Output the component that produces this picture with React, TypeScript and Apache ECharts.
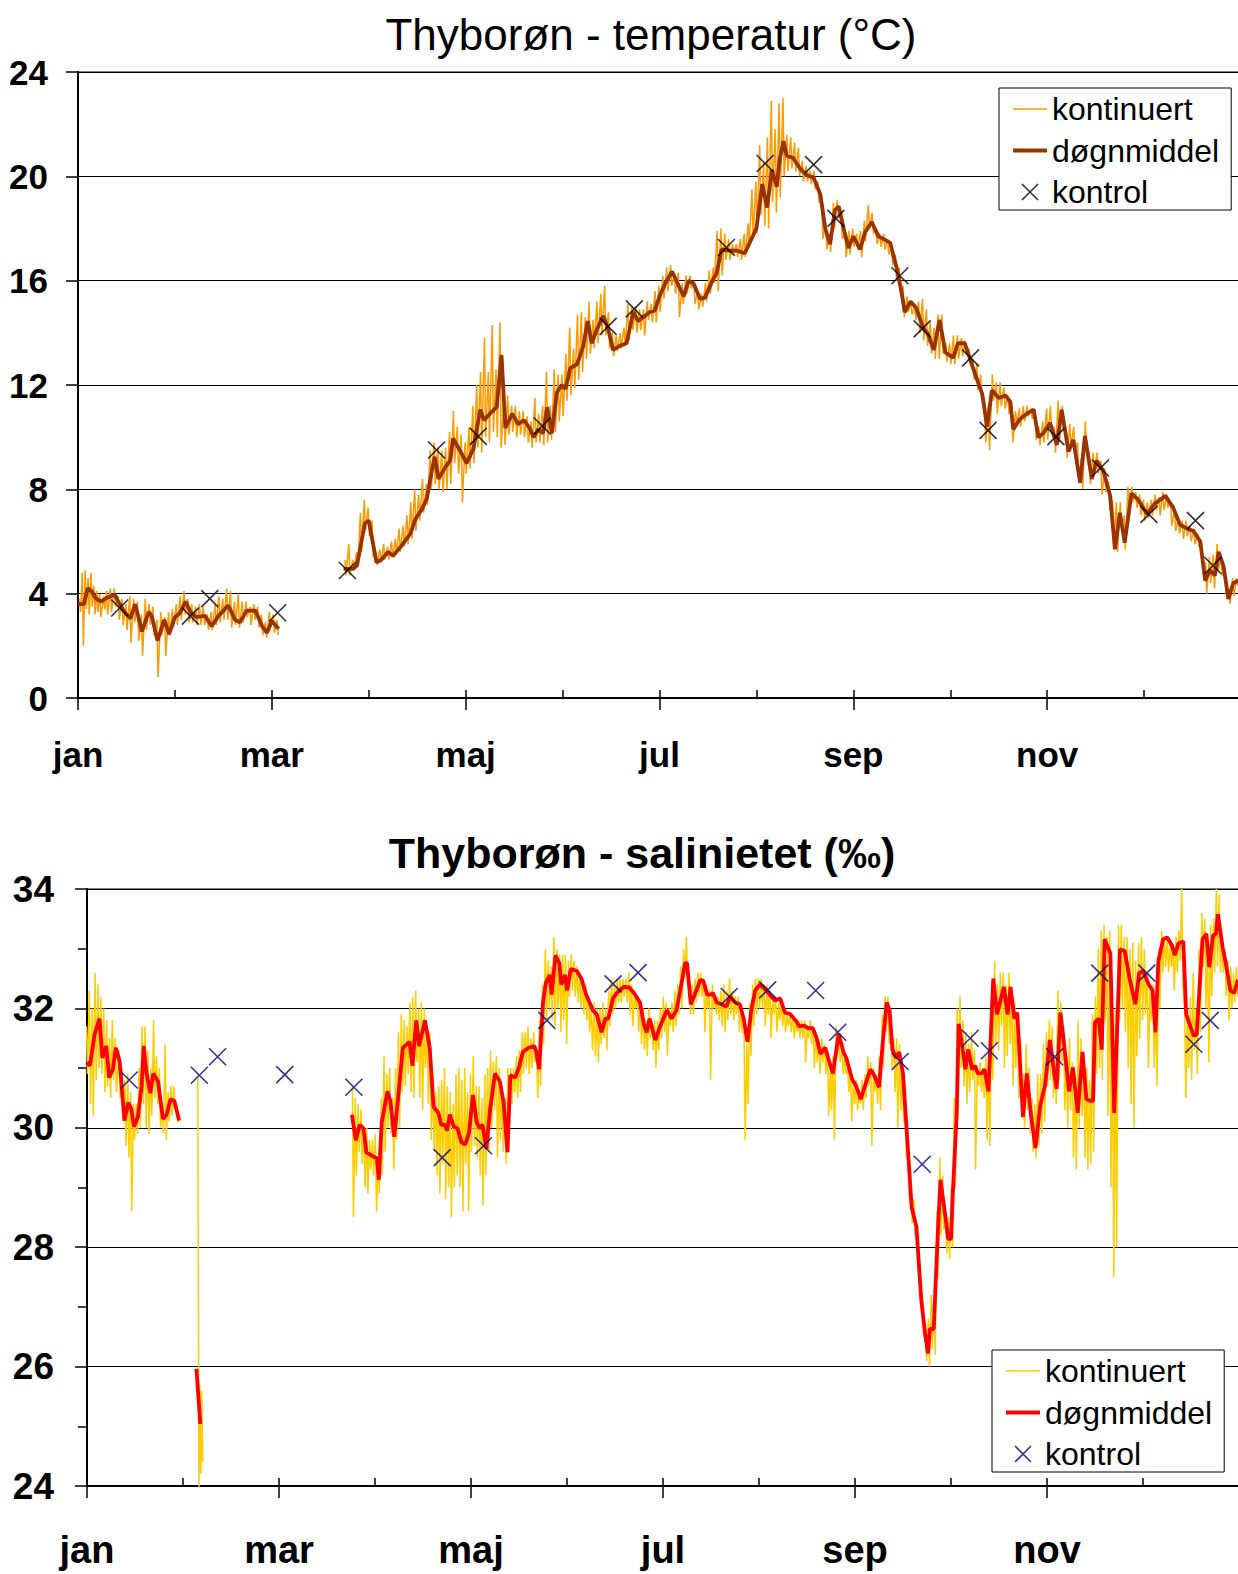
import React, { useEffect, useRef } from 'react';
import * as echarts from 'echarts';

const FONT = 'Liberation Sans, Arial, sans-serif';
const monthLabels = ['jan', 'mar', 'maj', 'jul', 'sep', 'nov'];
const legendNames = ['kontinuert', 'døgnmiddel', 'kontrol'];

// x = month (0 = 1 jan, 12 = end of year)
// ---------- Temperature: kontinuert [month, low, high] ----------
const tempContWinter: number[][] = [
  [0.02, 3.3, 3.8], [0.05, 2.0, 4.8], [0.08, 3.4, 4.9], [0.11, 3.2, 4.6], [0.14, 3.5, 4.8], [0.17, 3.2, 4.3],
  [0.2, 3.3, 4.1], [0.23, 3.1, 4.0], [0.27, 3.4, 3.9], [0.3, 3.2, 4.1], [0.34, 3.3, 4.2], [0.38, 3.5, 4.2],
  [0.42, 3.0, 3.9], [0.46, 2.8, 3.8], [0.5, 2.6, 3.6], [0.54, 2.1, 3.9], [0.58, 2.9, 3.8], [0.62, 2.2, 3.7],
  [0.66, 1.6, 3.2], [0.7, 2.6, 3.8], [0.74, 2.8, 3.6], [0.78, 2.4, 3.5], [0.82, 0.8, 3.0], [0.86, 2.4, 3.3],
  [0.9, 1.6, 3.1], [0.94, 2.4, 3.3], [0.98, 2.7, 3.4], [1.02, 2.8, 3.6], [1.06, 3.0, 3.9], [1.1, 3.2, 4.1],
  [1.14, 2.9, 3.8], [1.18, 2.9, 3.6], [1.22, 2.8, 3.5], [1.26, 2.8, 3.6], [1.3, 2.8, 3.5], [1.34, 2.6, 3.2],
  [1.38, 2.6, 3.3], [1.42, 2.8, 3.6], [1.46, 2.9, 3.9], [1.5, 3.0, 3.8], [1.54, 3.0, 4.2], [1.58, 2.7, 4.1],
  [1.62, 2.8, 3.7], [1.66, 2.7, 4.0], [1.7, 2.9, 3.7], [1.74, 3.1, 3.7], [1.78, 2.8, 3.5], [1.82, 3.0, 3.6],
  [1.86, 2.7, 3.5], [1.9, 2.4, 3.2], [1.94, 2.3, 2.9], [1.98, 2.7, 3.3], [2.02, 2.5, 3.2], [2.06, 2.4, 3.0],
];
const tempContSpringToDec: number[][] = [
  [2.76, 4.7, 5.3], [2.8, 4.7, 5.9], [2.84, 4.9, 5.3], [2.88, 5.0, 5.6], [2.92, 5.6, 7.1], [2.96, 6.4, 7.6],
  [3.0, 6.2, 7.3], [3.04, 5.4, 6.8], [3.08, 5.1, 5.6], [3.12, 5.2, 5.7], [3.16, 5.3, 5.9], [3.2, 5.3, 5.8],
  [3.24, 5.4, 6.0], [3.28, 5.5, 6.1], [3.32, 5.6, 6.5], [3.36, 5.8, 6.6], [3.4, 5.9, 7.0], [3.44, 6.1, 7.5],
  [3.48, 6.4, 8.0], [3.52, 6.8, 7.8], [3.56, 7.1, 8.4], [3.6, 7.4, 8.2], [3.64, 8.0, 9.5], [3.68, 8.2, 9.8],
  [3.72, 8.0, 9.6], [3.76, 7.9, 9.5], [3.8, 8.0, 9.6], [3.84, 8.2, 10.2], [3.88, 9.0, 11.0], [3.92, 8.6, 10.4],
  [3.96, 7.5, 10.1], [4.0, 8.6, 9.8], [4.04, 8.8, 10.4], [4.08, 9.0, 11.2], [4.12, 9.6, 12.0], [4.16, 9.4, 12.5],
  [4.2, 10.0, 13.8], [4.24, 9.8, 12.5], [4.28, 10.2, 14.3], [4.32, 10.0, 12.6], [4.36, 9.6, 14.4], [4.4, 9.7, 11.5],
  [4.44, 10.1, 11.6], [4.48, 10.2, 11.2], [4.52, 10.0, 11.2], [4.56, 10.1, 11.0], [4.6, 10.0, 11.0], [4.64, 9.8, 10.8],
  [4.68, 9.6, 10.6], [4.72, 9.8, 11.5], [4.76, 9.8, 10.9], [4.8, 9.7, 11.2], [4.84, 9.8, 12.5], [4.88, 9.9, 11.2],
  [4.92, 10.2, 12.6], [4.96, 10.6, 12.4], [5.0, 10.8, 12.4], [5.04, 11.4, 13.2], [5.08, 11.6, 14.2], [5.12, 11.9, 13.4],
  [5.16, 12.2, 14.7], [5.2, 12.5, 14.8], [5.24, 13.0, 14.6], [5.28, 13.2, 15.2], [5.32, 13.4, 14.5], [5.36, 13.6, 15.2],
  [5.4, 13.9, 15.5], [5.44, 13.9, 15.8], [5.48, 13.4, 14.8], [5.52, 13.1, 14.0], [5.56, 13.3, 13.9], [5.6, 13.4, 14.0],
  [5.64, 13.5, 14.2], [5.68, 13.7, 15.1], [5.72, 14.1, 15.0], [5.76, 14.0, 15.0], [5.8, 14.1, 14.9], [5.84, 13.9, 14.9],
  [5.88, 14.5, 15.2], [5.92, 14.4, 15.1], [5.96, 14.4, 15.6], [6.0, 14.8, 15.8], [6.04, 15.3, 16.2], [6.08, 15.6, 16.5],
  [6.12, 15.8, 16.6], [6.16, 15.5, 16.2], [6.2, 14.6, 16.3], [6.24, 15.1, 15.9], [6.28, 15.5, 16.2], [6.32, 15.7, 16.2],
  [6.36, 15.1, 16.0], [6.4, 14.9, 15.6], [6.44, 15.0, 15.5], [6.48, 15.2, 15.9], [6.52, 15.5, 16.4], [6.56, 15.9, 16.5],
  [6.6, 15.6, 17.9], [6.64, 16.2, 18.0], [6.68, 16.8, 17.8], [6.72, 16.8, 17.6], [6.76, 17.0, 17.4], [6.8, 16.9, 17.4],
  [6.84, 16.8, 17.6], [6.88, 16.9, 17.8], [6.92, 17.3, 18.2], [6.96, 17.6, 19.5], [7.0, 17.8, 19.8], [7.04, 18.5, 21.2],
  [7.08, 18.1, 20.5], [7.12, 18.0, 21.5], [7.16, 19.0, 22.9], [7.2, 18.6, 21.8], [7.24, 19.2, 22.8], [7.28, 20.0, 23.0],
  [7.32, 20.2, 21.6], [7.36, 20.3, 21.5], [7.4, 20.2, 21.3], [7.44, 20.0, 21.1], [7.48, 19.8, 20.6], [7.52, 19.8, 20.4],
  [7.56, 19.7, 20.2], [7.6, 19.5, 20.2], [7.64, 19.0, 19.8], [7.68, 17.6, 19.0], [7.72, 17.2, 18.2], [7.76, 17.1, 17.8],
  [7.8, 18.0, 19.0], [7.84, 18.4, 19.1], [7.88, 17.6, 18.6], [7.92, 16.9, 17.8], [7.96, 17.0, 17.9], [8.0, 17.3, 18.0],
  [8.04, 17.2, 17.8], [8.08, 16.9, 17.9], [8.12, 17.5, 18.3], [8.16, 18.0, 18.9], [8.2, 17.8, 18.6], [8.24, 17.4, 18.0],
  [8.28, 17.3, 17.8], [8.32, 17.2, 17.8], [8.36, 17.0, 17.6], [8.4, 16.6, 17.3], [8.44, 16.0, 17.0], [8.48, 15.5, 16.5],
  [8.52, 14.6, 15.8], [8.56, 14.8, 15.4], [8.6, 14.7, 15.2], [8.64, 14.5, 15.0], [8.68, 14.0, 15.2], [8.72, 13.7, 15.3],
  [8.76, 13.5, 14.9], [8.8, 13.2, 14.4], [8.84, 13.0, 14.2], [8.88, 13.0, 14.7], [8.92, 13.2, 14.7], [8.96, 12.9, 13.6],
  [9.0, 12.8, 13.6], [9.04, 12.8, 13.9], [9.08, 13.0, 13.9], [9.12, 13.1, 13.8], [9.16, 13.2, 13.7], [9.2, 12.8, 13.4],
  [9.24, 12.2, 13.0], [9.28, 11.8, 12.8], [9.32, 11.5, 12.4], [9.36, 9.8, 11.5], [9.4, 9.5, 11.2], [9.44, 11.4, 12.4],
  [9.48, 10.9, 12.1], [9.52, 11.2, 12.1], [9.56, 11.1, 11.9], [9.6, 10.9, 11.6], [9.64, 9.8, 11.3], [9.68, 10.5, 11.0],
  [9.72, 10.4, 11.1], [9.76, 10.6, 11.2], [9.8, 10.8, 11.2], [9.84, 10.7, 11.1], [9.88, 9.9, 11.1], [9.92, 9.7, 10.4],
  [9.96, 9.8, 10.6], [10.0, 9.9, 11.1], [10.04, 10.1, 11.2], [10.08, 9.4, 10.4], [10.12, 9.8, 11.4], [10.16, 10.4, 11.2],
  [10.2, 9.2, 10.4], [10.24, 9.6, 10.5], [10.28, 9.5, 10.4], [10.32, 8.4, 9.8], [10.36, 8.0, 9.2], [10.4, 9.5, 10.6],
  [10.44, 8.2, 9.4], [10.48, 8.6, 9.4], [10.52, 8.6, 9.4], [10.56, 7.8, 9.1], [10.6, 7.9, 8.8], [10.64, 7.2, 8.3],
  [10.68, 5.7, 7.6], [10.72, 5.6, 7.5], [10.76, 6.6, 7.5], [10.8, 5.7, 7.0], [10.84, 7.4, 8.1], [10.88, 7.5, 8.1],
  [10.92, 7.3, 7.9], [10.96, 7.0, 7.8], [11.0, 6.8, 7.6], [11.04, 6.9, 7.5], [11.08, 7.0, 7.6], [11.12, 7.2, 7.8],
  [11.16, 7.0, 7.7], [11.2, 7.2, 7.9], [11.24, 7.3, 7.8], [11.28, 6.6, 7.5], [11.32, 6.4, 7.2], [11.36, 6.3, 6.9],
  [11.4, 6.1, 6.8], [11.44, 6.2, 6.8], [11.48, 6.0, 6.6], [11.52, 5.9, 6.5], [11.56, 5.8, 6.3], [11.6, 4.8, 5.9],
  [11.64, 4.0, 5.2], [11.68, 4.4, 5.4], [11.72, 4.2, 5.5], [11.76, 4.9, 5.9], [11.8, 4.7, 5.4], [11.84, 4.0, 4.9],
  [11.88, 3.6, 4.2], [11.92, 3.9, 4.6], [11.96, 4.3, 4.6],
];
// ---------- Temperature: døgnmiddel [month, value] ----------
const tempMeanWinter: number[][] = [
  [0, 3.6], [0.06, 3.6], [0.1, 4.2], [0.14, 4.1], [0.19, 3.8], [0.24, 3.7], [0.3, 3.85], [0.38, 3.95], [0.43, 3.6],
  [0.48, 3.3], [0.54, 3.05], [0.59, 3.6], [0.66, 2.55], [0.73, 3.3], [0.76, 3.15], [0.82, 2.2], [0.89, 3.0],
  [0.94, 2.45], [1.0, 3.1], [1.05, 3.25], [1.11, 3.7], [1.16, 3.3], [1.22, 3.1], [1.31, 3.15], [1.38, 2.75],
  [1.45, 3.15], [1.55, 3.55], [1.62, 3.0], [1.67, 2.9], [1.74, 3.35], [1.83, 3.35], [1.9, 2.75], [1.95, 2.5],
  [2.0, 2.95], [2.07, 2.65],
];
const tempMeanSpringToDec: number[][] = [
  [2.74, 4.95], [2.84, 4.95], [2.88, 5.1], [2.96, 6.7], [3.0, 6.8], [3.08, 5.2], [3.13, 5.3], [3.2, 5.6], [3.25, 5.45],
  [3.34, 5.85], [3.43, 6.3], [3.48, 6.85], [3.55, 7.25], [3.6, 7.65], [3.65, 8.7], [3.68, 9.25], [3.72, 8.4],
  [3.79, 8.85], [3.84, 9.1], [3.87, 9.95], [3.94, 9.5], [4.01, 9.0], [4.08, 9.55], [4.15, 11.05], [4.19, 10.65],
  [4.25, 10.9], [4.32, 11.15], [4.37, 13.15], [4.41, 10.35], [4.48, 10.9], [4.54, 10.5], [4.6, 10.65], [4.66, 10.35],
  [4.7, 10.0], [4.75, 10.3], [4.8, 10.15], [4.84, 11.15], [4.89, 10.15], [4.94, 11.7], [4.99, 12.0], [5.03, 11.85],
  [5.08, 12.65], [5.15, 12.8], [5.21, 13.45], [5.26, 14.45], [5.3, 13.6], [5.35, 14.1], [5.42, 14.65], [5.47, 14.15],
  [5.52, 13.35], [5.59, 13.5], [5.66, 13.6], [5.73, 14.8], [5.78, 14.45], [5.85, 14.65], [5.9, 14.8], [5.95, 14.85],
  [6.0, 15.4], [6.06, 15.9], [6.13, 16.35], [6.18, 15.95], [6.25, 15.4], [6.3, 16.0], [6.35, 15.9], [6.42, 15.3],
  [6.47, 15.35], [6.54, 15.95], [6.59, 16.3], [6.64, 17.2], [6.71, 17.15], [6.8, 17.15], [6.88, 17.05], [6.93, 17.45],
  [7.0, 18.0], [7.06, 19.7], [7.11, 18.8], [7.16, 20.25], [7.21, 19.6], [7.24, 20.65], [7.28, 21.35], [7.31, 20.8],
  [7.38, 20.7], [7.45, 20.3], [7.52, 20.05], [7.59, 19.95], [7.66, 19.3], [7.71, 18.0], [7.76, 17.4], [7.81, 18.7],
  [7.85, 18.85], [7.9, 18.0], [7.95, 17.25], [8.0, 17.7], [8.07, 17.2], [8.12, 17.85], [8.19, 18.25], [8.26, 17.7],
  [8.31, 17.6], [8.38, 17.45], [8.45, 16.45], [8.5, 15.5], [8.53, 14.8], [8.59, 15.2], [8.65, 14.95], [8.72, 14.2],
  [8.77, 13.95], [8.83, 13.35], [8.89, 14.5], [8.95, 13.25], [9.03, 13.05], [9.08, 13.6], [9.15, 13.6], [9.24, 12.6],
  [9.33, 11.65], [9.38, 10.4], [9.43, 11.8], [9.5, 11.5], [9.57, 11.6], [9.62, 11.35], [9.65, 10.3], [9.72, 10.7],
  [9.81, 10.95], [9.86, 11.05], [9.91, 10.0], [9.96, 10.15], [10.03, 10.55], [10.1, 9.7], [10.15, 11.05], [10.22, 9.45],
  [10.27, 9.9], [10.34, 8.25], [10.39, 10.05], [10.46, 8.4], [10.51, 9.1], [10.58, 8.7], [10.65, 7.75], [10.7, 5.7],
  [10.75, 7.1], [10.8, 5.95], [10.87, 7.85], [10.94, 7.6], [11.03, 7.05], [11.11, 7.45], [11.22, 7.75], [11.3, 7.3],
  [11.37, 6.65], [11.44, 6.5], [11.51, 6.4], [11.58, 6.0], [11.63, 4.5], [11.68, 4.9], [11.73, 4.7], [11.77, 5.6],
  [11.82, 5.05], [11.87, 3.8], [11.92, 4.4], [11.97, 4.5],
];
// ---------- Temperature: kontrol ----------
const tempControl: number[][] = [
  [0.43, 3.45], [1.16, 3.14], [1.36, 3.81], [2.06, 3.27], [2.78, 4.89], [3.7, 9.51], [4.13, 10.03], [4.79, 10.43],
  [5.47, 14.25], [5.74, 14.92], [6.69, 17.27], [7.09, 20.49], [7.59, 20.45], [7.82, 18.39], [8.48, 16.19],
  [8.71, 14.15], [9.21, 13.04], [9.39, 10.26], [10.09, 10.02], [10.55, 8.82], [11.05, 7.04], [11.53, 6.8], [11.71, 5.08],
];

// ---------- Salinity: kontinuert [month, low, high] ----------
const salContWinter: number[][] = [
  [0.0, 30.9, 31.7], [0.03, 30.4, 32.3], [0.06, 30.2, 32.0], [0.09, 30.8, 32.6], [0.12, 31.0, 32.4], [0.15, 30.9, 32.2],
  [0.18, 30.6, 32.0], [0.21, 30.7, 31.8], [0.24, 30.5, 31.5], [0.27, 30.8, 31.8], [0.3, 30.6, 31.5], [0.34, 30.5, 31.3],
  [0.37, 30.1, 31.0], [0.4, 29.7, 30.8], [0.43, 29.5, 30.9], [0.46, 28.6, 30.6], [0.49, 29.8, 30.4], [0.52, 29.9, 30.4],
  [0.55, 30.0, 31.0], [0.58, 30.4, 31.7], [0.61, 30.0, 31.7], [0.64, 29.9, 31.3], [0.67, 30.2, 31.0], [0.7, 30.5, 31.8],
  [0.73, 30.4, 31.2], [0.76, 30.0, 31.0], [0.79, 29.9, 30.4], [0.82, 29.8, 31.4], [0.85, 30.1, 30.6], [0.88, 30.2, 30.7],
  [0.91, 30.3, 30.7], [0.94, 30.1, 30.4],
];
const salContFeb: number[][] = [
  [1.16, 23.8, 30.85], [1.18, 24.2, 25.7], [1.2, 24.4, 25.6],
];
const salContSpringToDec: number[][] = [
  [2.77, 28.5, 30.7], [2.8, 29.2, 30.5], [2.83, 29.6, 30.4], [2.86, 29.4, 30.3], [2.89, 29.0, 30.0], [2.92, 28.9, 30.0],
  [2.95, 29.3, 29.8], [2.98, 29.2, 29.8], [3.01, 28.6, 29.9], [3.04, 28.9, 29.5], [3.07, 29.2, 30.5], [3.1, 29.6, 31.2],
  [3.13, 30.0, 30.9], [3.16, 29.9, 31.0], [3.19, 29.3, 30.5], [3.22, 29.8, 31.0], [3.25, 30.0, 31.6], [3.28, 30.6, 31.9],
  [3.31, 30.7, 31.8], [3.34, 30.9, 31.7], [3.37, 30.6, 32.1], [3.4, 30.5, 32.2], [3.43, 31.1, 32.3], [3.46, 30.5, 32.0],
  [3.49, 30.3, 32.1], [3.52, 31.0, 32.0], [3.55, 30.4, 31.7], [3.58, 29.8, 31.6], [3.61, 29.6, 30.9], [3.64, 29.2, 30.6],
  [3.67, 28.9, 30.7], [3.7, 29.4, 30.8], [3.73, 28.8, 31.0], [3.76, 29.0, 30.7], [3.79, 28.5, 30.6], [3.82, 29.0, 30.4],
  [3.85, 29.2, 30.9], [3.88, 29.0, 31.0], [3.91, 28.6, 30.8], [3.94, 29.4, 31.0], [3.97, 28.6, 30.6], [4.0, 29.6, 30.9],
  [4.03, 29.7, 31.2], [4.06, 29.5, 30.7], [4.09, 29.2, 30.7], [4.12, 28.7, 30.5], [4.15, 29.2, 30.9], [4.18, 29.6, 31.0],
  [4.21, 30.0, 31.3], [4.24, 30.3, 31.1], [4.27, 29.5, 31.2], [4.3, 29.8, 31.0], [4.33, 29.6, 30.7], [4.36, 29.4, 30.5],
  [4.39, 29.9, 31.0], [4.42, 30.4, 31.0], [4.45, 30.6, 31.0], [4.48, 30.5, 31.2], [4.51, 30.6, 31.3], [4.54, 30.9, 31.6],
  [4.57, 31.0, 31.6], [4.6, 30.9, 31.7], [4.63, 31.0, 31.5], [4.66, 31.1, 31.6], [4.69, 30.5, 31.3], [4.72, 30.7, 31.8],
  [4.75, 31.4, 32.4], [4.78, 31.8, 33.0], [4.81, 32.0, 32.8], [4.84, 31.8, 32.7], [4.87, 31.7, 33.2], [4.9, 32.0, 33.0],
  [4.93, 31.6, 32.9], [4.96, 31.8, 32.9], [4.99, 31.4, 32.9], [5.02, 32.2, 32.8], [5.05, 32.3, 32.9], [5.08, 32.2, 32.8],
  [5.11, 32.1, 32.7], [5.14, 32.0, 32.6], [5.17, 31.9, 32.5], [5.2, 31.8, 32.4], [5.23, 31.6, 32.2], [5.26, 31.3, 32.0],
  [5.29, 31.2, 32.1], [5.32, 31.1, 32.0], [5.35, 31.4, 32.0], [5.38, 31.5, 32.1], [5.41, 31.3, 32.0], [5.44, 31.7, 32.3],
  [5.47, 31.9, 32.5], [5.5, 32.0, 32.4], [5.53, 32.1, 32.5], [5.56, 32.1, 32.5], [5.59, 32.2, 32.5], [5.62, 32.1, 32.5],
  [5.65, 31.9, 32.6], [5.68, 31.7, 32.4], [5.71, 32.0, 32.3], [5.74, 31.6, 32.2], [5.77, 31.4, 32.1], [5.8, 31.3, 32.0],
  [5.83, 31.2, 31.8], [5.86, 31.5, 32.0], [5.89, 31.3, 31.7], [5.92, 31.0, 31.8], [5.95, 31.3, 31.8], [5.98, 31.5, 32.0],
  [6.01, 31.6, 32.2], [6.04, 31.2, 32.1], [6.07, 31.7, 32.0], [6.1, 31.6, 32.1], [6.13, 31.7, 32.3], [6.16, 31.9, 32.4],
  [6.19, 32.0, 32.7], [6.22, 32.5, 33.0], [6.25, 32.4, 33.2], [6.28, 31.9, 32.5], [6.31, 31.9, 32.4], [6.34, 32.1, 32.5],
  [6.37, 32.2, 32.6], [6.4, 32.2, 32.6], [6.43, 31.6, 32.5], [6.46, 32.0, 32.4], [6.49, 30.8, 32.3], [6.52, 32.0, 32.4],
  [6.55, 31.9, 32.2], [6.58, 31.8, 32.2], [6.61, 31.7, 32.3], [6.64, 31.6, 32.4], [6.67, 31.8, 32.3], [6.7, 31.9, 32.5],
  [6.73, 31.8, 32.3], [6.76, 31.9, 32.2], [6.79, 31.6, 32.2], [6.82, 31.6, 32.0], [6.85, 29.8, 31.6], [6.88, 30.4, 31.4],
  [6.91, 31.2, 32.1], [6.94, 31.7, 32.4], [6.97, 31.9, 32.5], [7.0, 32.0, 32.5], [7.03, 32.0, 32.5], [7.06, 31.7, 32.4],
  [7.09, 31.9, 32.4], [7.12, 31.5, 32.3], [7.15, 31.9, 32.2], [7.18, 31.6, 32.2], [7.21, 31.8, 32.1], [7.24, 31.7, 32.1],
  [7.27, 31.6, 32.0], [7.3, 31.7, 31.9], [7.33, 31.6, 31.9], [7.36, 31.5, 31.9], [7.39, 31.6, 31.8], [7.42, 31.5, 31.8],
  [7.45, 31.5, 31.8], [7.48, 31.1, 31.8], [7.51, 31.5, 31.7], [7.54, 31.4, 31.8], [7.57, 31.0, 31.7], [7.6, 31.1, 31.6],
  [7.63, 30.9, 31.5], [7.66, 31.1, 31.5], [7.69, 30.9, 31.4], [7.72, 30.2, 31.3], [7.75, 30.3, 31.1], [7.78, 29.8, 31.2],
  [7.81, 31.2, 31.7], [7.84, 31.1, 31.5], [7.87, 30.9, 31.3], [7.9, 30.9, 31.2], [7.93, 30.6, 31.0], [7.96, 30.1, 30.9],
  [7.99, 30.4, 30.8], [8.02, 30.3, 30.8], [8.05, 30.4, 30.6], [8.08, 30.3, 30.8], [8.11, 30.5, 30.9], [8.14, 30.7, 31.2],
  [8.17, 29.7, 31.1], [8.2, 30.6, 31.0], [8.23, 30.4, 30.9], [8.26, 30.3, 31.2], [8.29, 31.0, 31.9], [8.32, 31.6, 32.2],
  [8.35, 31.4, 32.2], [8.38, 31.0, 31.7], [8.41, 30.6, 31.5], [8.44, 30.0, 31.5], [8.47, 30.3, 31.4], [8.5, 30.1, 31.0],
  [8.53, 29.5, 30.3], [8.56, 28.8, 29.6], [8.59, 28.4, 28.9], [8.62, 28.2, 28.8], [8.65, 27.6, 28.3], [8.68, 27.0, 27.7],
  [8.71, 26.5, 27.2], [8.74, 26.1, 26.6], [8.77, 26.0, 26.8], [8.8, 26.3, 27.2], [8.83, 26.2, 27.0], [8.86, 27.5, 28.6],
  [8.89, 28.2, 29.5], [8.92, 28.3, 29.2], [8.95, 27.9, 28.6], [8.98, 27.8, 28.5], [9.01, 28.0, 29.0], [9.04, 29.0, 30.5],
  [9.07, 30.8, 32.0], [9.1, 31.0, 32.2], [9.13, 30.7, 31.8], [9.16, 30.4, 31.6], [9.19, 30.6, 31.4], [9.22, 30.8, 31.6],
  [9.25, 29.3, 31.3], [9.28, 30.7, 31.0], [9.31, 30.6, 31.1], [9.34, 30.5, 31.0], [9.37, 29.8, 31.2], [9.4, 29.7, 31.3],
  [9.43, 30.8, 32.2], [9.46, 31.4, 32.8], [9.49, 31.3, 32.4], [9.52, 31.7, 32.6], [9.55, 31.0, 32.6], [9.58, 31.2, 32.4],
  [9.61, 31.4, 32.6], [9.64, 30.7, 32.3], [9.67, 31.0, 32.1], [9.7, 30.5, 31.9], [9.73, 30.4, 31.5], [9.76, 30.0, 30.9],
  [9.79, 30.3, 31.4], [9.82, 29.9, 31.0], [9.85, 29.6, 30.5], [9.88, 29.5, 30.4], [9.91, 29.7, 30.9], [9.94, 29.9, 30.9],
  [9.97, 30.1, 31.4], [10.0, 30.7, 31.6], [10.03, 30.8, 31.8], [10.06, 30.5, 31.7], [10.09, 30.4, 31.2], [10.12, 30.8, 32.3],
  [10.15, 31.1, 32.1], [10.18, 30.3, 31.7], [10.21, 30.0, 31.2], [10.24, 30.3, 31.5], [10.27, 29.5, 31.1], [10.3, 29.3, 30.9],
  [10.33, 30.0, 31.8], [10.36, 30.2, 31.5], [10.39, 29.5, 31.0], [10.42, 29.3, 31.0], [10.45, 29.4, 30.8], [10.48, 29.6, 31.9],
  [10.51, 30.9, 32.2], [10.54, 31.0, 33.0], [10.57, 30.8, 33.3], [10.6, 31.8, 33.4], [10.63, 30.2, 33.2], [10.66, 29.0, 33.3],
  [10.69, 27.5, 31.5], [10.72, 28.0, 32.0], [10.75, 31.8, 33.4], [10.78, 32.0, 33.4], [10.81, 31.6, 33.2], [10.84, 31.0, 33.2],
  [10.87, 30.4, 33.0], [10.9, 30.0, 33.1], [10.93, 31.2, 32.8], [10.96, 31.5, 33.1], [10.99, 31.8, 33.2], [11.02, 31.9, 33.0],
  [11.05, 31.0, 32.6], [11.08, 31.8, 32.4], [11.11, 31.0, 32.4], [11.14, 30.7, 32.0], [11.17, 32.0, 33.0], [11.2, 32.6, 33.3],
  [11.23, 32.7, 33.2], [11.26, 32.6, 33.2], [11.29, 32.7, 33.1], [11.32, 32.3, 33.0], [11.35, 32.6, 33.2], [11.38, 32.8, 33.3],
  [11.41, 32.4, 34.0], [11.44, 30.5, 32.0], [11.47, 31.0, 32.0], [11.5, 30.8, 32.2], [11.53, 31.3, 32.6], [11.56, 30.9, 32.0],
  [11.59, 31.6, 33.0], [11.62, 32.7, 33.6], [11.65, 32.0, 33.5], [11.68, 31.1, 33.0], [11.71, 32.2, 33.4], [11.74, 32.6, 33.5],
  [11.77, 32.7, 34.0], [11.8, 32.6, 33.9], [11.83, 32.6, 33.2], [11.86, 32.2, 33.0], [11.89, 31.8, 32.8], [11.92, 32.0, 32.7],
  [11.95, 32.1, 32.6], [11.98, 32.2, 32.7],
];
// ---------- Salinity: døgnmiddel ----------
const salMeanWinter: number[][] = [
  [0, 31.1], [0.03, 31.04], [0.08, 31.57], [0.13, 31.83], [0.16, 31.17], [0.2, 31.37], [0.23, 30.84], [0.27, 30.98],
  [0.3, 31.34], [0.34, 31.11], [0.39, 30.12], [0.43, 30.42], [0.46, 30.32], [0.49, 30.02], [0.53, 30.18], [0.57, 30.71],
  [0.59, 31.37], [0.62, 30.91], [0.66, 30.58], [0.69, 30.91], [0.74, 30.78], [0.79, 30.15], [0.83, 30.22], [0.87, 30.48],
  [0.91, 30.45], [0.96, 30.12],
];
const salMeanFeb: number[][] = [[1.14, 25.96], [1.18, 25.04]];
const salMeanSpringToDec: number[][] = [
  [2.76, 30.22], [2.8, 29.79], [2.84, 30.05], [2.88, 29.99], [2.91, 29.59], [2.98, 29.52], [3.02, 29.49], [3.04, 29.13],
  [3.07, 30.09], [3.13, 30.61], [3.16, 30.45], [3.2, 29.85], [3.24, 30.48], [3.29, 31.34], [3.36, 31.44], [3.39, 31.04],
  [3.43, 31.8], [3.46, 31.37], [3.52, 31.8], [3.57, 31.34], [3.61, 30.35], [3.66, 30.25], [3.69, 30.05], [3.73, 30.05],
  [3.75, 29.95], [3.78, 30.22], [3.82, 30.02], [3.86, 29.99], [3.9, 29.76], [3.94, 29.72], [3.98, 29.92], [4.02, 30.55],
  [4.06, 30.09], [4.09, 29.99], [4.12, 30.05], [4.16, 29.65], [4.2, 30.32], [4.25, 30.91], [4.3, 30.78], [4.34, 30.42],
  [4.38, 29.59], [4.41, 30.88], [4.46, 30.84], [4.5, 31.01], [4.54, 31.27], [4.6, 31.34], [4.66, 31.37], [4.68, 31.27],
  [4.71, 30.98], [4.75, 32.1], [4.78, 32.43], [4.82, 32.56], [4.84, 32.23], [4.88, 32.89], [4.92, 32.76], [4.94, 32.4],
  [4.98, 32.56], [5.0, 32.3], [5.04, 32.66], [5.1, 32.63], [5.15, 32.5], [5.2, 32.23], [5.27, 31.97], [5.31, 31.9],
  [5.36, 31.6], [5.4, 31.83], [5.43, 31.83], [5.48, 32.17], [5.52, 32.26], [5.59, 32.36], [5.65, 32.35], [5.71, 32.23],
  [5.76, 32.1], [5.8, 31.74], [5.83, 31.6], [5.86, 31.83], [5.92, 31.47], [5.97, 31.7], [6.04, 31.97], [6.09, 31.83],
  [6.14, 31.97], [6.18, 32.3], [6.23, 32.76], [6.25, 32.76], [6.29, 32.07], [6.33, 32.23], [6.39, 32.48], [6.42, 32.46],
  [6.46, 32.23], [6.5, 32.23], [6.52, 32.26], [6.56, 32.1], [6.61, 32.07], [6.66, 32.03], [6.7, 32.2], [6.75, 32.1],
  [6.8, 32.07], [6.84, 31.83], [6.88, 31.44], [6.92, 31.97], [6.96, 32.3], [7.01, 32.4], [7.06, 32.33], [7.11, 32.23],
  [7.17, 32.13], [7.22, 32.17], [7.27, 31.93], [7.32, 31.91], [7.38, 31.8], [7.42, 31.7], [7.47, 31.71], [7.51, 31.67],
  [7.56, 31.67], [7.6, 31.5], [7.64, 31.24], [7.69, 31.34], [7.72, 31.17], [7.77, 30.91], [7.83, 31.57], [7.88, 31.27],
  [7.91, 31.17], [7.97, 30.81], [8.01, 30.71], [8.06, 30.48], [8.1, 30.68], [8.16, 30.98], [8.2, 30.88], [8.25, 30.68],
  [8.29, 31.44], [8.33, 32.1], [8.36, 31.97], [8.39, 31.31], [8.43, 31.17], [8.46, 31.27], [8.5, 30.91], [8.54, 29.92],
  [8.59, 28.67], [8.64, 28.34], [8.69, 27.12], [8.73, 26.56], [8.76, 26.22], [8.78, 26.63], [8.82, 26.63], [8.86, 28.14],
  [8.89, 29.13], [8.94, 28.54], [8.97, 28.14], [9.0, 28.14], [9.02, 28.93], [9.06, 30.25], [9.08, 31.74], [9.11, 31.44],
  [9.15, 30.98], [9.18, 31.31], [9.22, 30.98], [9.25, 31.04], [9.28, 30.91], [9.32, 30.91], [9.35, 30.98], [9.39, 30.61],
  [9.44, 32.5], [9.48, 31.9], [9.51, 32.1], [9.55, 32.36], [9.59, 31.9], [9.62, 32.36], [9.66, 31.83], [9.69, 31.93],
  [9.75, 30.18], [9.79, 30.91], [9.83, 30.25], [9.88, 29.66], [9.93, 30.38], [9.98, 30.71], [10.03, 31.47], [10.07, 30.98],
  [10.1, 30.65], [10.14, 31.93], [10.18, 31.37], [10.23, 30.61], [10.27, 31.01], [10.32, 30.25], [10.37, 31.27], [10.41, 30.48],
  [10.45, 30.45], [10.48, 30.45], [10.5, 31.77], [10.54, 31.83], [10.57, 31.31], [10.6, 33.16], [10.66, 32.92], [10.7, 30.25],
  [10.76, 32.99], [10.81, 32.96], [10.86, 32.5], [10.92, 32.07], [10.96, 32.59], [11.0, 32.63], [11.06, 32.4], [11.1, 32.3],
  [11.13, 31.6], [11.16, 32.79], [11.21, 33.16], [11.25, 33.19], [11.3, 33.06], [11.33, 32.89], [11.37, 33.09], [11.42, 33.12],
  [11.45, 31.9], [11.5, 31.67], [11.53, 31.54], [11.56, 31.57], [11.6, 32.63], [11.62, 33.16], [11.66, 33.25], [11.69, 32.69],
  [11.73, 33.22], [11.76, 33.25], [11.78, 33.58], [11.83, 33.02], [11.87, 32.69], [11.91, 32.3], [11.95, 32.26], [11.99, 32.48],
];
// ---------- Salinity: kontrol ----------
const salControl: number[][] = [
  [0.44, 30.8], [1.17, 30.88], [1.36, 31.19], [2.06, 30.89], [2.78, 30.68], [3.7, 29.5], [4.13, 29.7], [4.79, 31.8],
  [5.48, 32.41], [5.74, 32.6], [6.69, 32.2], [7.09, 32.31], [7.59, 32.3], [7.82, 31.6], [8.47, 31.11], [8.7, 29.39],
  [9.2, 31.5], [9.4, 31.29], [10.08, 31.19], [10.55, 32.59], [11.04, 32.59], [11.53, 31.4], [11.7, 31.8],
];

// Each [month, low, high] reading becomes two vertices, so the hourly noise is drawn as a band.
function toTrace(...segments: number[][][]) {
  const out: any[] = [];
  segments.forEach((seg, i) => {
    if (i > 0) out.push([seg[0][0], '-']);
    seg.forEach(([m, lo, hi]) => {
      out.push([m - 0.006, hi]);
      out.push([m + 0.006, lo]);
    });
  });
  return out;
}
function joinSegments(...segments: number[][][]) {
  const out: any[] = [];
  segments.forEach((seg, i) => {
    if (i > 0) out.push([seg[0][0], '-']);
    seg.forEach((p) => out.push(p));
  });
  return out;
}

const CROSS = 'path://M0,0L10,10M10,0L0,10';
const THIN_LINE_ICON = 'path://M0,0L34,0L34,1.6L0,1.6Z';
const THICK_LINE_ICON = 'path://M0,0L34,0L34,3.8L0,3.8Z';

interface Cfg {
  title: string; titleBold: boolean; titleSize: number; titleTop: number; titleX: number;
  grid: { left: number; top: number; width: number; height: number };
  yMin: number; yMax: number; yInterval: number; yLabelSize: number; yLabelMargin: number; yMinor: boolean;
  xLabelSize: number; xLabelMargin: number;
  contColor: string; meanColor: string; ctrlColor: string;
  cont: any[]; mean: any[]; ctrl: number[][];
  legendLeft: number; legendTop: number;
}

function buildOption(c: Cfg): any {
  const axisColor = '#000';
  return {
    animation: false,
    backgroundColor: '#fff',
    textStyle: { fontFamily: FONT },
    title: {
      text: c.title, left: c.titleX, top: c.titleTop, textAlign: 'center', padding: 0,
      textStyle: { fontFamily: FONT, fontSize: c.titleSize, fontWeight: c.titleBold ? 'bold' : 'normal', color: '#000' },
    },
    legend: {
      orient: 'vertical', left: c.legendLeft, top: c.legendTop,
      itemWidth: 34, itemHeight: 16, itemGap: 9.5,
      padding: [5, 12, 2, 14],
      borderColor: '#000', borderWidth: 1, backgroundColor: '#fff', borderRadius: 0,
      selectedMode: false, symbolKeepAspect: true,
      textStyle: { fontFamily: FONT, fontSize: 32, color: '#000' },
      data: [
        { name: legendNames[0], icon: THIN_LINE_ICON, itemStyle: { color: c.contColor, borderWidth: 0 } },
        { name: legendNames[1], icon: THICK_LINE_ICON, itemStyle: { color: c.meanColor, borderWidth: 0 } },
        { name: legendNames[2], icon: CROSS, itemStyle: { color: 'none', borderColor: c.ctrlColor, borderWidth: 1.6 } },
      ],
    },
    grid: {
      ...c.grid, show: true, borderColor: '#000', borderWidth: 1, backgroundColor: 'transparent',
      containLabel: false, outerBoundsMode: 'none',
    },
    xAxis: [
      {
        type: 'value', min: 0, max: 12, interval: 1, position: 'bottom',
        axisLine: { show: true, lineStyle: { color: axisColor, width: 2 } },
        axisTick: { show: true, inside: true, length: 8, lineStyle: { color: axisColor, width: 1.5 } },
        axisLabel: { show: false }, splitLine: { show: false },
      },
      {
        type: 'value', min: 0, max: 12, interval: 2, position: 'bottom',
        axisLine: { show: false },
        axisTick: { show: true, inside: false, length: 12, lineStyle: { color: axisColor, width: 1.5 } },
        axisLabel: {
          show: true, margin: c.xLabelMargin, color: '#000', fontFamily: FONT, fontWeight: 'bold', fontSize: c.xLabelSize,
          formatter: (v: number) => monthLabels[Math.round(v / 2)] ?? '',
        },
        splitLine: { show: false },
      },
    ],
    yAxis: {
      type: 'value', min: c.yMin, max: c.yMax, interval: c.yInterval,
      axisLine: { show: true, lineStyle: { color: axisColor, width: 2 } },
      axisTick: { show: true, inside: false, length: 12, lineStyle: { color: axisColor, width: 1.5 } },
      minorTick: { show: c.yMinor, splitNumber: 2, length: 9, lineStyle: { color: axisColor, width: 1.5 } },
      axisLabel: { margin: c.yLabelMargin, color: '#000', fontFamily: FONT, fontWeight: 'bold', fontSize: c.yLabelSize },
      splitLine: { show: true, lineStyle: { color: '#000', width: 1 } },
    },
    series: [
      {
        name: legendNames[0], type: 'line', data: c.cont, symbol: 'none', showSymbol: false, clip: true,
        lineStyle: { color: c.contColor, width: 1.5 }, itemStyle: { color: c.contColor }, z: 2,
      },
      {
        name: legendNames[1], type: 'line', data: c.mean, symbol: 'none', showSymbol: false, clip: true,
        lineStyle: { color: c.meanColor, width: 3.8 }, itemStyle: { color: c.meanColor }, z: 3,
      },
      {
        name: legendNames[2], type: 'scatter', data: c.ctrl, symbol: CROSS, symbolSize: 17, symbolKeepAspect: true,
        itemStyle: { color: 'none', borderColor: c.ctrlColor, borderWidth: 1.6 }, z: 4,
      },
    ],
  };
}

const tempOption = () => buildOption({
  title: 'Thyborøn - temperatur (°C)', titleBold: false, titleSize: 44, titleTop: 12, titleX: 651,
  grid: { left: 78, top: 72, width: 1163, height: 626 },
  yMin: 0, yMax: 24, yInterval: 4, yLabelSize: 35, yLabelMargin: 30, yMinor: false,
  xLabelSize: 35, xLabelMargin: 39,
  contColor: '#FF9900', meanColor: '#993300', ctrlColor: '#000000',
  cont: toTrace(tempContWinter, tempContSpringToDec),
  mean: joinSegments(tempMeanWinter, tempMeanSpringToDec),
  ctrl: tempControl,
  legendLeft: 999, legendTop: 88,
});

const salOption = () => buildOption({
  title: 'Thyborøn - salinietet (‰)', titleBold: true, titleSize: 43, titleTop: 44, titleX: 642,
  grid: { left: 87, top: 102, width: 1152, height: 597 },
  yMin: 24, yMax: 34, yInterval: 2, yLabelSize: 37, yLabelMargin: 33, yMinor: true,
  xLabelSize: 38, xLabelMargin: 45,
  contColor: '#FFCC00', meanColor: '#FF0000', ctrlColor: '#000080',
  cont: toTrace(salContWinter, salContFeb, salContSpringToDec),
  mean: joinSegments(salMeanWinter, salMeanFeb, salMeanSpringToDec),
  ctrl: salControl,
  legendLeft: 992, legendTop: 563,
});

export default function App() {
  const topRef = useRef<HTMLDivElement>(null);
  const botRef = useRef<HTMLDivElement>(null);
  useEffect(() => {
    const top = echarts.init(topRef.current!, undefined, { renderer: 'svg' });
    const bot = echarts.init(botRef.current!, undefined, { renderer: 'svg' });
    top.setOption(tempOption());
    bot.setOption(salOption());
    return () => {
      top.dispose();
      bot.dispose();
    };
  }, []);
  return (
    <div style={{ position: 'absolute', left: 0, top: 0, width: 1238, height: 1574, background: '#fff', overflow: 'hidden' }}>
      <div ref={topRef} style={{ position: 'absolute', left: 0, top: 0, width: 1238, height: 787 }} />
      <div ref={botRef} style={{ position: 'absolute', left: 0, top: 787, width: 1238, height: 787 }} />
    </div>
  );
}
